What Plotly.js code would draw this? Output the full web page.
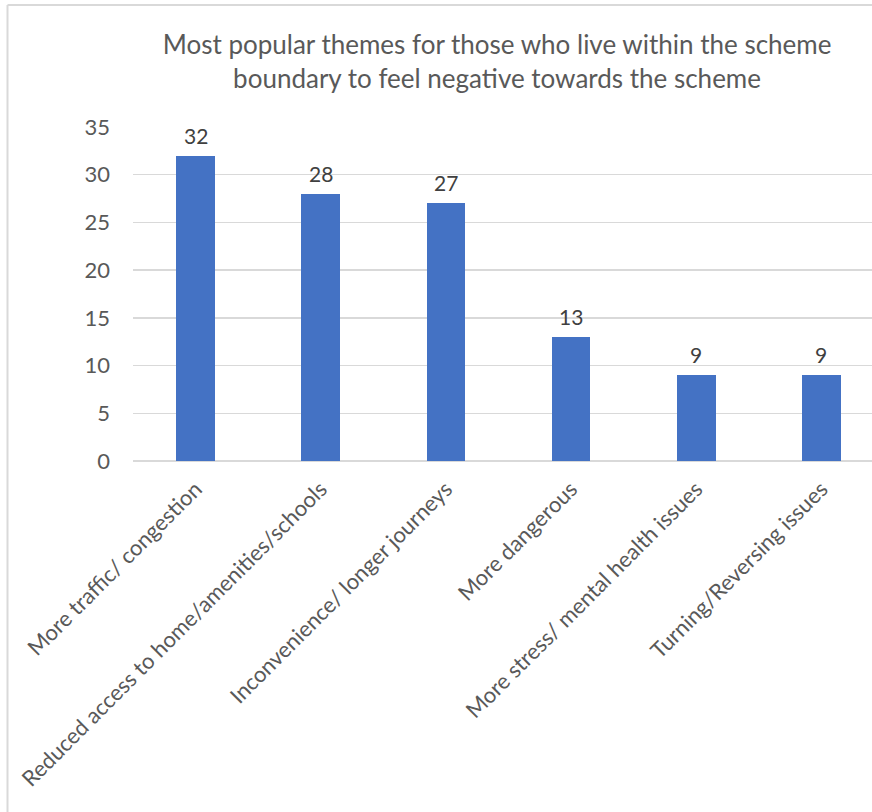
<!DOCTYPE html>
<html>
<head>
<meta charset="utf-8">
<script src="https://cdn.plot.ly/plotly-3.0.1.min.js"></script>
<style>
html,body{margin:0;padding:0;background:#fff;}
#chart{width:872px;height:812px;}
</style>
</head>
<body>
<div id="chart"></div>
<script>
const categories = [
  "More traffic/ congestion",
  "Reduced access to home/amenities/schools",
  "Inconvenience/ longer journeys",
  "More dangerous",
  "More stress/ mental health issues",
  "Turning/Reversing issues"
];
const values = [32, 28, 27, 13, 9, 9];
const titleText = "Most popular themes for those who live within the scheme<br>boundary to feel negative towards the scheme";

const FONT = "Lato, 'Open Sans', sans-serif";

const xs = categories.map((c, i) => i);

const trace = {
  type: "bar",
  x: xs,
  y: values,
  width: 0.31,
  marker: {color: "#4472C4"},
  cliponaxis: false,
  hoverinfo: "none"
};

const labelAnnotations = values.map((v, i) => ({
  x: xs[i], y: v, xref: "x", yref: "y",
  text: String(v), showarrow: false,
  yanchor: "bottom", xanchor: "center", yshift: 6,
  font: {family: FONT, size: 21, color: "#404040"}
}));

const PW = 739, PH = 334;
const layout = {
  width: 872,
  height: 812,
  paper_bgcolor: "#ffffff",
  plot_bgcolor: "#ffffff",
  margin: {l: 133, r: 0, t: 127, b: 351},
  title: {
    text: titleText,
    font: {family: FONT, size: 26, color: "#595959"},
    x: 0.57, xanchor: "center",
    y: 0.933, yanchor: "top"
  },
  showlegend: false,
  bargap: 0,
  xaxis: {
    range: [-0.5, 5.404],
    tickmode: "array",
    tickvals: xs,
    ticktext: categories,
    tickangle: -45,
    tickfont: {family: FONT, size: 22, color: "#595959"},
    showgrid: false,
    zeroline: false,
    showline: false,
    ticks: "",
    ticklabelstandoff: 10
  },
  yaxis: {
    range: [0, 35],
    tickvals: [0, 5, 10, 15, 20, 25, 30, 35],
    tickfont: {family: FONT, size: 22, color: "#595959"},
    showgrid: true,
    gridcolor: "#d9d9d9",
    gridwidth: 1.5,
    zeroline: true,
    zerolinecolor: "#d9d9d9",
    zerolinewidth: 1.5,
    showline: false,
    ticks: "",
    ticklabelstandoff: 22
  },
  annotations: labelAnnotations,
  shapes: [
    {type: "line", xref: "paper", yref: "paper", x0: (7.5-133)/PW, x1: (7.5-133)/PW, y0: -351/PH, y1: (812-5-351)/PH, line: {color: "#d9d9d9", width: 2}},
    {type: "line", xref: "paper", yref: "paper", x0: (7.5-133)/PW, x1: 1.0, y0: (812-5-351)/PH, y1: (812-5-351)/PH, line: {color: "#d9d9d9", width: 2}}
  ]
};

Plotly.newPlot("chart", [trace], layout, {displayModeBar: false, staticPlot: true});
</script>
</body>
</html>
